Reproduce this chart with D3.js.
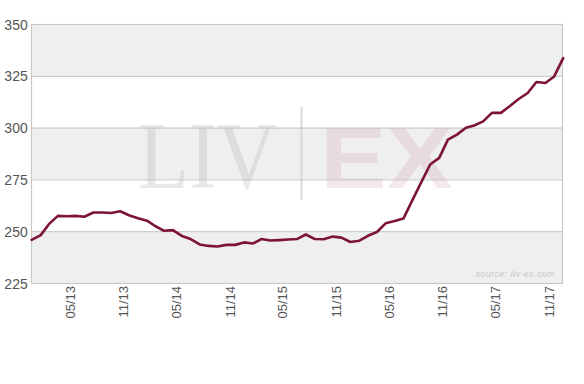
<!DOCTYPE html>
<html><head><meta charset="utf-8">
<script src="https://cdn.jsdelivr.net/npm/d3@7"></script>
<style>body{margin:0;background:#fff}svg{display:block}</style>
</head><body><svg id="c" width="584" height="384"></svg>
<script>
// ---- data ----
const startDate = [2013, 0]; // Jan 2013, monthly
const values = [245.8,248.1,253.4,257.4,257.2,257.4,257.0,259.0,259.0,258.8,259.6,257.7,256.3,255.1,252.5,250.2,250.5,247.7,246.2,243.6,242.9,242.6,243.4,243.4,244.6,244.1,246.2,245.5,245.7,246.0,246.2,248.4,246.2,246.1,247.4,246.9,244.8,245.4,247.8,249.6,253.8,254.9,256.1,265.0,273.8,282.2,285.4,294.2,296.6,299.9,301.0,303.0,307.1,307.1,310.3,313.8,316.7,322.0,321.5,324.7,333.5];
const yTicks = [225, 250, 275, 300, 325, 350];
const xTickLabels = ["05/13","11/13","05/14","11/14","05/15","11/15","05/16","11/16","05/17","11/17"];
const sourceText = "source: liv-ex.com";

const dates = values.map((v, i) => new Date(startDate[0], startDate[1] + i, 1));
const data = values.map((v, i) => ({date: dates[i], value: v}));
const parseTick = d3.timeParse("%m/%y");
const xTickDates = xTickLabels.map(s => parseTick(s));

const svg = d3.select("#c");
const L = 31.7, R = 563.2, T = 24, B = 283;
const x = d3.scaleTime().domain([dates[0], dates[dates.length - 1]]).range([L, R]);
const y = d3.scaleLinear().domain([225, 350]).range([B, T]);
const plotR = 562.5;

// bands
const bands = [];
for (let i = 0; i < yTicks.length - 1; i++) if (i % 2 === 0) bands.push([yTicks[i], yTicks[i + 1]]);
svg.append("g").selectAll("rect").data(bands).join("rect")
  .attr("x", 32).attr("width", plotR - 32)
  .attr("y", d => y(d[1])).attr("height", d => y(d[0]) - y(d[1]))
  .attr("fill", "#efefef");

// watermark
const wm = svg.append("g");
wm.append("text").attr("x", 138).attr("y", 188)
  .attr("font-family", "'Liberation Serif', 'Times New Roman', serif")
  .attr("font-size", 95).attr("fill", "#bdbdbd").attr("fill-opacity", 0.35)
  .attr("textLength", 139).attr("lengthAdjust", "spacingAndGlyphs").text("LIV");
wm.append("line").attr("x1", 301.5).attr("x2", 301.5).attr("y1", 107).attr("y2", 200)
  .attr("stroke", "#d8d8d8").attr("stroke-width", 2);
wm.append("text").attr("x", 320).attr("y", 188)
  .attr("font-family", "'Liberation Sans', Arial, sans-serif").attr("font-weight", "bold")
  .attr("font-size", 88).attr("fill", "#c98a9a").attr("fill-opacity", 0.2)
  .attr("textLength", 133).attr("lengthAdjust", "spacingAndGlyphs").text("EX");

// grid lines
svg.append("g").selectAll("line").data(yTicks.slice(1, -1)).join("line")
  .attr("x1", 32).attr("x2", plotR)
  .attr("y1", d => y(d) + 0.5).attr("y2", d => y(d) + 0.5)
  .attr("stroke", "#c4c4c4").attr("stroke-width", 1);

// frame
svg.append("rect").attr("x", 31.5).attr("y", T + 0.5).attr("width", plotR - 31.5).attr("height", B - T)
  .attr("fill", "none").attr("stroke", "#c8c8c8").attr("stroke-width", 1.2);

// source
svg.append("text").attr("x", 555).attr("y", 277).attr("text-anchor", "end")
  .attr("font-family", "'Liberation Sans', Arial, sans-serif").attr("font-style", "italic")
  .attr("font-size", 8.5).attr("letter-spacing", 0.6).attr("fill", "#c6c6c6").text(sourceText);

// line
svg.append("path").datum(data)
  .attr("fill", "none").attr("stroke", "#7c1338").attr("stroke-width", 2.6)
  .attr("stroke-linejoin", "round").attr("stroke-linecap", "round")
  .attr("d", d3.line().x(d => x(d.date)).y(d => y(d.value)));

// y axis
const yAxis = svg.append("g").attr("transform", `translate(${L - 4},0)`)
  .call(d3.axisLeft(y).tickValues(yTicks).tickSize(0).tickPadding(0).tickFormat(d3.format("d")));
yAxis.select(".domain").remove();
yAxis.selectAll("text").attr("font-family", "'Liberation Sans', Arial, sans-serif")
  .attr("font-size", 14).attr("fill", "#555").attr("dy", "0.36em");

// x axis
const xAxis = svg.append("g").attr("transform", `translate(0,${B})`)
  .call(d3.axisBottom(x).tickValues(xTickDates).tickSize(0).tickFormat((d, i) => xTickLabels[i]));
xAxis.select(".domain").remove();
xAxis.selectAll("text").attr("transform", "rotate(-90)")
  .attr("text-anchor", "end").attr("x", -3).attr("y", 0).attr("dy", "7.7px")
  .attr("font-family", "'Liberation Sans', Arial, sans-serif")
  .attr("font-size", 13).attr("fill", "#555");
</script></body></html>
